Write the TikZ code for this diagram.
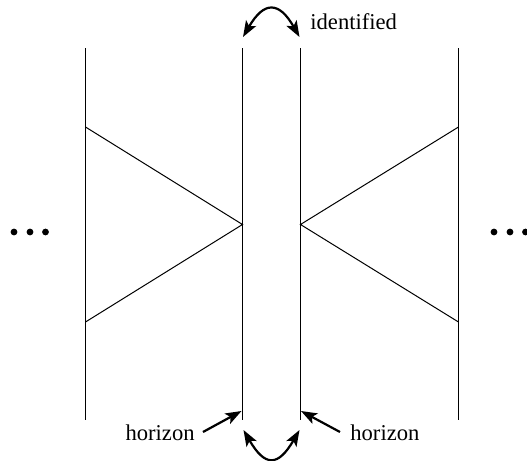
\documentclass[tikz,border=0pt]{standalone}
\usepackage{fontspec}
\setmainfont{Liberation Serif}
\usetikzlibrary{arrows.meta}
\begin{document}
\begin{tikzpicture}[x=0.5pt,y=-0.5pt,
  wall/.style={line width=0.5pt,black},
  tipstyle/.style={},
  ptr/.style={line width=1.1pt,-{Stealth[length=8pt,width=5.8pt,inset=1.8pt]}},
  dptr/.style={line width=1.1pt,{Stealth[length=8pt,width=5.8pt,inset=1.8pt]}-{Stealth[length=8pt,width=5.8pt,inset=1.8pt]}},
  lbl/.style={inner sep=0pt,font=\fontsize{11.3}{13}\selectfont},
  dot/.style={circle,fill=black,inner sep=0pt,minimum size=3.4pt}]
\useasboundingbox (0,0) rectangle (527,461);
% coordinates
\coordinate (a1) at (85.5,48);   \coordinate (a2) at (85.5,420);
\coordinate (b1) at (242.5,48);  \coordinate (b2) at (242.5,420);
\coordinate (c1) at (300.5,48);  \coordinate (c2) at (300.5,420);
\coordinate (d1) at (458.5,48);  \coordinate (d2) at (458.5,420);
\coordinate (lt) at (85.5,127);  \coordinate (lb) at (85.5,322);
\coordinate (la) at (242.5,224.5);
\coordinate (rt) at (458.5,127); \coordinate (rb) at (458.5,322);
\coordinate (ra) at (300.5,224.5);
% vertical lines
\draw[wall] (a1) -- (a2);
\draw[wall] (b1) -- (b2);
\draw[wall] (c1) -- (c2);
\draw[wall] (d1) -- (d2);
% triangles
\draw[wall] (lt) -- (la) -- (lb);
\draw[wall] (rt) -- (ra) -- (rb);
% dots
\node[dot] (p1) at (14,232) {};
\node[dot] (p2) at (30,232) {};
\node[dot] (p3) at (45.5,232) {};
\node[dot] (q1) at (494,232) {};
\node[dot] (q2) at (510,232) {};
\node[dot] (q3) at (525.5,232) {};
% identified arrow
\coordinate (t1) at (243,37);
\coordinate (t2) at (299.5,37);
\draw[dptr] (t1) .. controls (264,1) and (279,1) .. (t2);
\node[lbl,anchor=base west] (id) at (310,29) {identified};
% bottom arrow
\coordinate (u1) at (243.5,430);
\coordinate (u2) at (299.5,430);
\draw[dptr] (u1) .. controls (265,467) and (278,467) .. (u2);
% horizon labels
\coordinate (h1) at (241.5,411);
\coordinate (h2) at (301,411);
\node[lbl,anchor=base east] (hl) at (195,440) {horizon};
\node[lbl,anchor=base west] (hr) at (350,440) {horizon};
\coordinate (hlt) at (203,432);
\coordinate (hrt) at (340,432);
\draw[ptr] (hlt) -- (h1);
\draw[ptr] (hrt) -- (h2);
\end{tikzpicture}
\end{document}
